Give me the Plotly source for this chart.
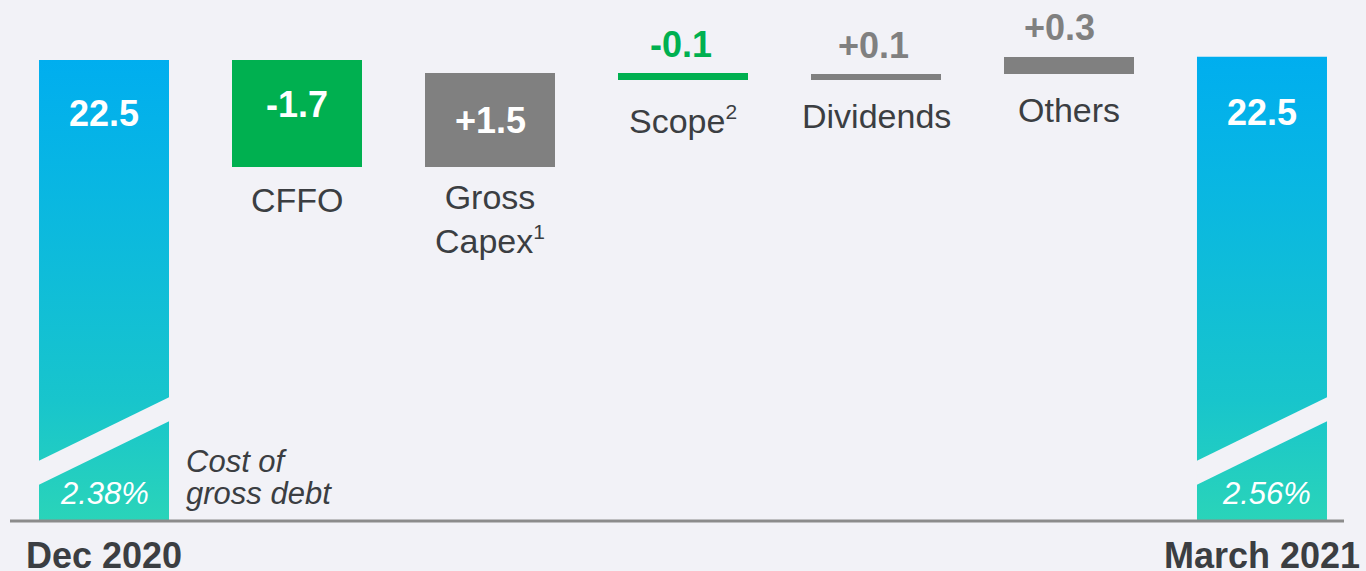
import plotly.graph_objects as go

# ---------------- data ----------------
categories = ["Dec 2020", "CFFO", "Gross Capex", "Scope", "Dividends", "Others", "March 2021"]
start_total = 22.5
deltas = [-1.70, 1.49, -0.11, 0.10, 0.27]          # CFFO, Gross Capex, Scope, Dividends, Others
value_labels = ["22.5", "-1.7", "+1.5", "-0.1", "+0.1", "+0.3", "22.5"]
category_labels = ["CFFO",
                   "Gross<br>Capex<sup><span style='font-size:21px'>1</span></sup>",
                   "Scope<sup><span style='font-size:21px'>2</span></sup>",
                   "Dividends", "Others"]
cost_of_debt = ["2.38%", "2.56%"]

# ---------------- styling ----------------
BG = "#F2F2F7"
GREEN = "#00B050"
GREY = "#808080"
TEXT = "#3B3E42"
FONT = "Arial, Liberation Sans, sans-serif"

W, H = 1366, 571
MB = 50                    # bottom margin
PLOT_H = H - MB            # 521 px plot height
PPU = 63.0                 # pixels per unit on the value axis
Y_TOP = start_total + 60 / PPU
Y_MIN = Y_TOP - PLOT_H / PPU
X_RANGE = [-0.5389, 6.5389]
PX_PER_X = W / (X_RANGE[1] - X_RANGE[0])
BAR_W = 130 / PX_PER_X

def px_to_y(px_from_top):
    return Y_TOP - px_from_top / PPU

# cumulative waterfall
bases = []
cum = start_total
for d in deltas:
    bases.append(cum)
    cum += d
end_total = cum
tops = [max(b, b + d) for b, d in zip(bases, deltas)]
bottoms = [min(b, b + d) for b, d in zip(bases, deltas)]

fig = go.Figure()

# totals (gradient columns rising from the broken axis)
total_x = [0, 6]
total_vals = [start_total, end_total]
for xi, v in zip(total_x, total_vals):
    x0, x1 = xi - BAR_W / 2, xi + BAR_W / 2
    fig.add_trace(go.Scatter(
        x=[x0, x1, x1, x0, x0], y=[Y_MIN, Y_MIN, v, v, Y_MIN],
        mode="lines", fill="toself", line=dict(width=0),
        fillgradient=dict(type="vertical",
                          colorscale=[[0, "#2AD4B9"], [0.26, "#18C5CC"], [1, "#00AEEF"]]),
        hoverinfo="skip", showlegend=False))

# delta bars
fig.add_trace(go.Bar(
    x=[1, 2, 3, 4, 5], y=deltas, base=bases, width=BAR_W,
    marker=dict(color=[GREEN if d < 0 else GREY for d in deltas], line=dict(width=0)),
    hoverinfo="skip", showlegend=False))

ann = []
# total labels
for xi, v, lab, off in zip(total_x, total_vals, [value_labels[0], value_labels[6]], [53, 56]):
    ann.append(dict(x=xi, y=v, yref="y", xref="x", text=f"<b>{lab}</b>", showarrow=False,
                    yanchor="middle", yshift=-off, font=dict(family=FONT, size=36, color="white")))
# cost of debt
for xi, lab, dx in zip(total_x, cost_of_debt, [0, 5]):
    ann.append(dict(x=xi, y=Y_MIN, xref="x", yref="y", text=f"<i>{lab}</i>", showarrow=False,
                    yanchor="middle", yshift=28, xshift=dx,
                    font=dict(family=FONT, size=31, color="white")))
ann.append(dict(x=(184 - 104) / PX_PER_X, y=Y_MIN, xref="x", yref="y", text="<i>Cost of</i>",
                showarrow=False, xanchor="left", yanchor="middle", yshift=60,
                font=dict(family=FONT, size=31, color=TEXT)))
ann.append(dict(x=(184 - 104) / PX_PER_X, y=Y_MIN, xref="x", yref="y", text="<i>gross debt</i>",
                showarrow=False, xanchor="left", yanchor="middle", yshift=28,
                font=dict(family=FONT, size=31, color=TEXT)))
# x category labels for totals
for xi, lab in zip(total_x, [categories[0], categories[6]]):
    ann.append(dict(x=xi, y=Y_MIN, xref="x", yref="y", text=f"<b>{lab}</b>", showarrow=False,
                    yanchor="middle", yshift=-34, font=dict(family=FONT, size=36, color=TEXT)))

# delta value labels and category labels
val_offsets = [44, 47, -29, -28, -29]   # label centre relative to bar top (px, down positive)
val_xshift = [0, 0, -2, -3, -10]
cat_offsets = [33, 52, 40, 36, 36]      # label centre relative to bar bottom (px)
for i, d in enumerate(deltas):
    xi = i + 1
    inside = val_offsets[i] > 0
    col = "white" if inside else (GREEN if d < 0 else GREY)
    ann.append(dict(x=xi, y=tops[i], xref="x", yref="y", text=f"<b>{value_labels[i + 1]}</b>",
                    showarrow=False, yanchor="middle", yshift=-val_offsets[i], xshift=val_xshift[i],
                    font=dict(family=FONT, size=36, color=col)))
    ann.append(dict(x=xi, y=bottoms[i], xref="x", yref="y", text=category_labels[i],
                    showarrow=False, yanchor="middle", yshift=-cat_offsets[i],
                    font=dict(family=FONT, size=34, color=TEXT)))

# axis break bands and baseline
shapes = []
for xi in total_x:
    x0, x1 = xi - BAR_W / 2 - 0.003, xi + BAR_W / 2 + 0.003
    shapes.append(dict(type="path", xref="x", yref="y", layer="above",
                       path=f"M {x0},{px_to_y(461)} L {x1},{px_to_y(397)} L {x1},{px_to_y(421)} "
                            f"L {x0},{px_to_y(485)} Z",
                       fillcolor=BG, line=dict(width=0)))
shapes.append(dict(type="line", xref="paper", yref="paper", x0=10 / W, x1=1344 / W, y0=0, y1=0,
                   line=dict(color="#8C8C8C", width=3), layer="above"))

fig.update_layout(
    width=W, height=H, paper_bgcolor=BG, plot_bgcolor=BG,
    margin=dict(l=0, r=0, t=0, b=MB),
    xaxis=dict(range=X_RANGE, visible=False, fixedrange=True),
    yaxis=dict(range=[Y_MIN, Y_TOP], visible=False, fixedrange=True),
    annotations=ann, shapes=shapes, showlegend=False, bargap=0,
)

fig.write_html(
    "out.html",
    config={"displayModeBar": False},
    post_script="document.body.style.margin='0';document.body.style.overflow='hidden';"
                "document.body.style.background='" + BG + "';",
)
